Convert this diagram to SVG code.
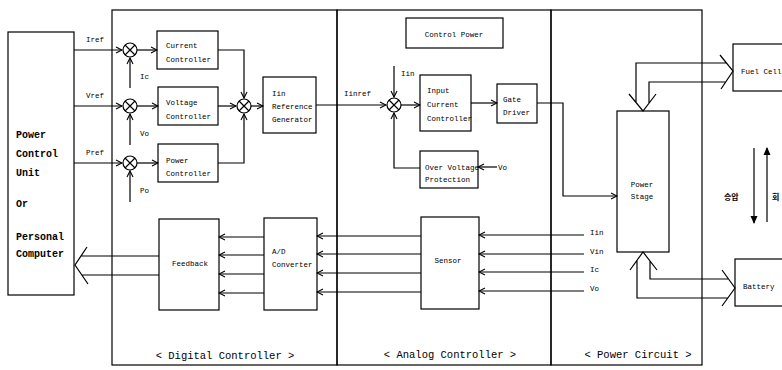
<svg xmlns="http://www.w3.org/2000/svg" width="782" height="370" viewBox="0 0 782 370">
<defs>
<style>
.b{fill:#fff;stroke:#000;stroke-width:1.2}
.l{fill:none;stroke:#000;stroke-width:1.2}
.t{font-family:"Liberation Mono",monospace;font-size:7.5px;fill:#000}
.tc{font-family:"Liberation Mono",monospace;font-size:7.5px;fill:#000;text-anchor:middle}
.big{font-family:"Liberation Mono",monospace;font-size:10px;font-weight:bold;fill:#000}
.cap{font-family:"Liberation Mono",monospace;font-size:10.5px;fill:#000;text-anchor:middle}
.kr{font-family:"Noto Sans CJK KR",sans-serif;font-size:8px;font-weight:bold;fill:#000}
</style>
<marker id="a" markerWidth="8" markerHeight="8" refX="7" refY="4" orient="auto" markerUnits="userSpaceOnUse"><path d="M1,1 L7,4 L1,7" fill="none" stroke="#000" stroke-width="1.1"/></marker>
<marker id="f" markerWidth="8" markerHeight="8" refX="7" refY="4" orient="auto" markerUnits="userSpaceOnUse"><path d="M0,0.5 L8,4 L0,7.5 z" fill="#000"/></marker>
<g id="sj"><circle r="7" class="b"/><path d="M-5,-5 L5,5 M-5,5 L5,-5" class="l" stroke-width="1"/></g>
</defs>
<rect width="782" height="370" fill="#fff"/>

<g id="panels">
<rect x="112" y="10" width="225" height="355" class="l"/>
<rect x="337" y="10" width="214" height="355" class="l"/>
<rect x="551" y="10" width="151" height="355" class="l"/>
<text class="cap" x="225" y="359">&lt; Digital Controller &gt;</text>
<text class="cap" x="450" y="358">&lt; Analog Controller &gt;</text>
<text class="cap" x="638" y="358">&lt; Power Circuit &gt;</text>
</g>

<g id="pcu">
<rect x="8" y="32" width="66" height="263" class="b"/>
<text class="big" x="16" y="138">Power</text>
<text class="big" x="16" y="157">Control</text>
<text class="big" x="16" y="176">Unit</text>
<text class="big" x="16" y="207">Or</text>
<text class="big" x="16" y="240">Personal</text>
<text class="big" x="16" y="257">Computer</text>
</g>

<g id="sum-i"><use href="#sj" x="130" y="50"/></g>
<g id="sum-v"><use href="#sj" x="130" y="106"/></g>
<g id="sum-p"><use href="#sj" x="130" y="163"/></g>
<g id="sum-ctrl"><use href="#sj" x="244" y="106"/></g>
<g id="sum-iin"><use href="#sj" x="394" y="105"/></g>

<g id="current-controller"><rect x="157" y="31" width="61" height="38" class="b"/><text class="t" x="166" y="48">Current</text><text class="t" x="166" y="62">Controller</text></g>
<g id="voltage-controller"><rect x="158" y="87" width="60" height="38" class="b"/><text class="t" x="166" y="105">Voltage</text><text class="t" x="166" y="119">Controller</text></g>
<g id="power-controller"><rect x="158" y="144" width="60" height="38" class="b"/><text class="t" x="166" y="163">Power</text><text class="t" x="166" y="176">Controller</text></g>
<g id="iin-reference-generator"><rect x="263" y="77" width="53" height="56" class="b"/><text class="t" x="272" y="96">Iin</text><text class="t" x="272" y="109">Reference</text><text class="t" x="272" y="122">Generator</text></g>
<g id="control-power"><rect x="406" y="18" width="97" height="30" class="b"/><text class="tc" x="454" y="37">Control Power</text></g>
<g id="input-current-controller"><rect x="420" y="75" width="51" height="56" class="b"/><text class="t" x="427" y="93">Input</text><text class="t" x="427" y="107">Current</text><text class="t" x="427" y="121">Controller</text></g>
<g id="gate-driver"><rect x="497" y="84" width="40" height="39" class="b"/><text class="t" x="503" y="102">Gate</text><text class="t" x="503" y="115">Driver</text></g>
<g id="over-voltage-protection"><rect x="420" y="151" width="58" height="37" class="b"/><text class="t" x="425" y="170">Over Voltage</text><text class="t" x="425" y="182">Protection</text></g>
<g id="sensor"><rect x="421" y="217" width="58" height="92" class="b"/><text class="tc" x="448" y="263">Sensor</text></g>
<g id="ad-converter"><rect x="264" y="218" width="53" height="92" class="b"/><text class="t" x="272" y="254">A/D</text><text class="t" x="272" y="267">Converter</text></g>
<g id="feedback"><rect x="159" y="219" width="60" height="91" class="b"/><text class="tc" x="190" y="266">Feedback</text></g>
<g id="power-stage"><rect x="617" y="111" width="52" height="141" class="b"/><text class="tc" x="642" y="187">Power</text><text class="tc" x="642" y="199">Stage</text></g>
<g id="fuel-cell"><rect x="733" y="44" width="60" height="47" class="b"/><text class="t" x="741" y="74">Fuel Cell</text></g>
<g id="battery"><rect x="735" y="259" width="60" height="47" class="b"/><text class="t" x="743" y="289">Battery</text></g>

<g id="labels">
<text class="t" x="86" y="42">Iref</text>
<text class="t" x="86" y="98">Vref</text>
<text class="t" x="86" y="155">Pref</text>
<text class="t" x="140" y="79">Ic</text>
<text class="t" x="140" y="136">Vo</text>
<text class="t" x="140" y="193">Po</text>
<text class="t" x="344" y="96">Iinref</text>
<text class="t" x="401" y="76">Iin</text>
<text class="t" x="498" y="170">Vo</text>
<text class="t" x="590" y="235">Iin</text>
<text class="t" x="590" y="254">Vin</text>
<text class="t" x="590" y="272">Ic</text>
<text class="t" x="590" y="291">Vo</text>
<text class="kr" x="724" y="200">승압</text>
<text class="kr" x="772" y="200">회</text>
</g>

<g id="connectors">
<path class="l" d="M74,50 H122" marker-end="url(#a)"/>
<path class="l" d="M74,106 H122" marker-end="url(#a)"/>
<path class="l" d="M74,163 H122" marker-end="url(#a)"/>
<path class="l" d="M130,88 V58" marker-end="url(#a)"/>
<path class="l" d="M130,145 V114" marker-end="url(#a)"/>
<path class="l" d="M130,202 V171" marker-end="url(#a)"/>
<path class="l" d="M137,50 H157" marker-end="url(#a)"/>
<path class="l" d="M137,106 H158" marker-end="url(#a)"/>
<path class="l" d="M137,163 H158" marker-end="url(#a)"/>
<path class="l" d="M218,50 H244 V98" marker-end="url(#a)"/>
<path class="l" d="M218,106 H236" marker-end="url(#a)"/>
<path class="l" d="M218,163 H244 V114" marker-end="url(#a)"/>
<path class="l" d="M251,106 H263" marker-end="url(#a)"/>
<path class="l" d="M316,105 H386" marker-end="url(#a)"/>
<path class="l" d="M394,66 V97" marker-end="url(#a)"/>
<path class="l" d="M401,105 H420" marker-end="url(#a)"/>
<path class="l" d="M471,103 H497" marker-end="url(#a)"/>
<path class="l" d="M537,103 H563 V196 H617" marker-end="url(#a)"/>
<path class="l" d="M420,168 H394 V113" marker-end="url(#a)"/>
<path class="l" d="M497,167 H478" marker-end="url(#a)"/>
<path class="l" d="M584,235 H479" marker-end="url(#a)"/>
<path class="l" d="M584,254 H479" marker-end="url(#a)"/>
<path class="l" d="M584,272 H479" marker-end="url(#a)"/>
<path class="l" d="M584,291 H479" marker-end="url(#a)"/>
<path class="l" d="M421,236 H317" marker-end="url(#a)"/>
<path class="l" d="M421,254 H317" marker-end="url(#a)"/>
<path class="l" d="M421,273 H317" marker-end="url(#a)"/>
<path class="l" d="M421,292 H317" marker-end="url(#a)"/>
<path class="l" d="M264,237 H219" marker-end="url(#a)"/>
<path class="l" d="M264,255 H219" marker-end="url(#a)"/>
<path class="l" d="M264,274 H219" marker-end="url(#a)"/>
<path class="l" d="M264,293 H219" marker-end="url(#a)"/>
<path class="l" d="M159,256 H81 M159,275 H82 M87,247 L75,265 L88,284"/>
<path class="l" d="M636,103 V63 H727 M649,103 V82 H726 M629,94 L643,111 L656,94 M720,55 L733,71 L721,89"/>
<path class="l" d="M637,260 V298 H728 M650,261 V279 H728 M630,270 L643,252 L657,270 M722,270 L735,288 L722,306"/>
<path class="l" d="M754,148 V223" marker-end="url(#f)"/>
<path class="l" d="M767,222 V148" marker-end="url(#f)"/>
</g>
</svg>
